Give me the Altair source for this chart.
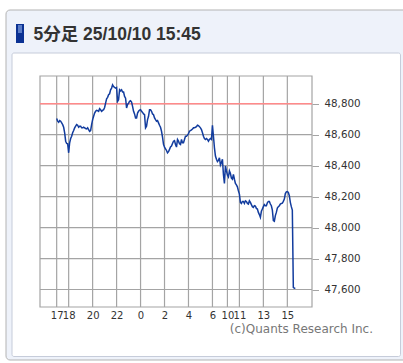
import altair as alt
import pandas as pd

# 5-minute bars in trading minutes from 17:00
# (night session 17:00-6:00 followed directly by day session 8:45-15:45)
# even bars (0, 10, 20 ... min) and odd bars (5, 15, 25 ... min)
prices_even = [48704, 48680, 48687, 48665, 48612, 48543, 48483, 48575, 48612, 48644,
               48665, 48648, 48655, 48644, 48644, 48637, 48633, 48627, 48697, 48740,
               48757, 48751, 48761, 48757, 48776, 48832, 48858, 48890, 48922, 48905,
               48905, 48826, 48883, 48875, 48847, 48772, 48804, 48819, 48783, 48734,
               48708, 48751, 48761, 48744, 48729, 48655, 48719, 48761, 48734, 48708,
               48687, 48676, 48648, 48584, 48520, 48498, 48490, 48520, 48543, 48562,
               48520, 48558, 48537, 48548, 48569, 48590, 48607, 48627, 48637, 48644,
               48652, 48659, 48644, 48612, 48575, 48575, 48558, 48575, 48661, 48515,
               48441, 48434, 48404, 48441, 48285, 48366, 48327, 48349, 48312, 48312,
               48276, 48237, 48163, 48169, 48156, 48169, 48152, 48163, 48135, 48141,
               48124, 48098, 48066, 48120, 48148, 48141, 48169, 48152, 48113, 48041,
               48098, 48135, 48152, 48158, 48184, 48231, 48227, 48163, 48113]
prices_odd = [48687, 48691, 48676, 48648, 48558, 48541, 48548, 48590, 48627, 48655,
              48661, 48655, 48644, 48648, 48640, 48644, 48622, 48665, 48719, 48751,
              48755, 48768, 48751, 48761, 48804, 48841, 48864, 48901, 48911, 48901,
              48815, 48890, 48890, 48875, 48836, 48794, 48815, 48811, 48751, 48708,
              48740, 48759, 48751, 48734, 48644, 48697, 48761, 48751, 48729, 48697,
              48691, 48661, 48622, 48537, 48509, 48483, 48505, 48526, 48558, 48537,
              48569, 48541, 48569, 48548, 48590, 48597, 48622, 48631, 48644, 48648,
              48661, 48652, 48633, 48590, 48569, 48569, 48569, 48569, 48590, 48462,
              48426, 48451, 48419, 48344, 48398, 48340, 48366, 48319, 48344, 48285,
              48263, 48216, 48156, 48169, 48173, 48156, 48173, 48148, 48130, 48139,
              48120, 48084, 48105, 48135, 48141, 48160, 48169, 48141, 48045, 48077,
              48126, 48141, 48156, 48169, 48220, 48233, 48206, 48135]
close_minutes = [1185, 1190, 1195]
close_prices = [47613, 47608, 47610]

x_tick_minutes = [0, 60, 180, 300, 420, 540, 660, 780, 855, 915, 1035, 1155]
x_tick_labels = ["17", "18", "20", "22", "0", "2", "4", "6", "10", "11", "13", "15"]
y_ticks = [47600, 47800, 48000, 48200, 48400, 48600, 48800]
ref_price = [48800]
header = "5分足 25/10/10 15:45"
credit = "(c)Quants Research Inc."

bar_minutes = 5
series = [v for pair in zip(prices_even, prices_odd) for v in pair] + [prices_even[-1]]
minutes = [i * bar_minutes for i in range(len(series))] + close_minutes
line_df = pd.DataFrame({"m": minutes, "price": series + close_prices})
xt_df = pd.DataFrame({"m": x_tick_minutes})
yt_df = pd.DataFrame({"p": y_ticks})
ref_df = pd.DataFrame({"p": ref_price})
one = pd.DataFrame({"header": [header], "credit": [credit]})

W, H = 272, 231
GRID = "#a4a4a4"

xscale = alt.Scale(domain=[-83.5, 1278.5], nice=False, zero=False)
yscale = alt.Scale(domain=[47487, 48979], nice=False, zero=False)

arr_v = "[" + ",".join(str(v) for v in x_tick_minutes) + "]"
arr_l = "[" + ",".join("'" + s + "'" for s in x_tick_labels) + "]"
xaxis = alt.Axis(values=x_tick_minutes, labelExpr=f"{arr_l}[indexof({arr_v}, datum.value)]",
                 ticks=False, domain=False, grid=False, labelPadding=3, labelFontSize=10,
                 labelFont="DejaVu Sans", labelColor="#333333", labelOverlap=False,
                 labelFlush=False, labelBound=False, title=None, zindex=1)
yaxis = alt.Axis(values=y_ticks, format=",d", orient="right", tickSize=6.5, tickColor=GRID,
                 domain=False, grid=False, labelPadding=5.5, labelFontSize=10.3,
                 labelFont="DejaVu Sans", labelColor="#333333", title=None, zindex=1)

base1 = alt.Chart(one)

outer = base1.mark_rect(fill="#eef2fa", stroke="#b3b3b3", strokeWidth=1, cornerRadius=4).encode(
    x=alt.value(-34), x2=alt.value(380), y=alt.value(-66), y2=alt.value(284))
inner = base1.mark_rect(fill="white", stroke="#c6ccda", strokeWidth=1, cornerRadius=2).encode(
    x=alt.value(-28), x2=alt.value(360.5), y=alt.value(-23), y2=alt.value(280.5))
marker = base1.mark_rect(fill="#0a3193").encode(
    x=alt.value(-24), x2=alt.value(-16), y=alt.value(-52), y2=alt.value(-33))
marker_hi = base1.mark_rect(fill="#5a7cc6").encode(
    x=alt.value(-22), x2=alt.value(-18), y=alt.value(-51), y2=alt.value(-43))
head_txt = base1.mark_text(align="left", baseline="alphabetic", fontSize=17.5, fontWeight="bold",
                           font="Liberation Sans, Noto Sans CJK JP", color="#333333").encode(
    x=alt.value(-6.5), y=alt.value(-36.5), text="header:N")
credit_txt = base1.mark_text(align="right", baseline="alphabetic", fontSize=12,
                             font="DejaVu Sans", color="#777777").encode(
    x=alt.value(333), y=alt.value(256.5), text="credit:N")

vgrid = alt.Chart(xt_df).mark_rule(color=GRID, strokeWidth=1.2).encode(
    x=alt.X("m:Q", scale=xscale, axis=xaxis))
hgrid = alt.Chart(yt_df).mark_rule(color=GRID, strokeWidth=1.2).encode(
    y=alt.Y("p:Q", scale=yscale, axis=yaxis))
frame = base1.mark_rect(fill=None, fillOpacity=0, stroke=GRID, strokeWidth=1.2).encode(
    x=alt.value(0), x2=alt.value(W), y=alt.value(0), y2=alt.value(H))
ref = alt.Chart(ref_df).mark_rule(color="#ff8a8a", strokeWidth=1.5).encode(
    y=alt.Y("p:Q", scale=yscale, axis=yaxis))
line = alt.Chart(line_df).mark_line(color="#123c9e", strokeWidth=1.5).encode(
    x=alt.X("m:Q", scale=xscale, axis=xaxis),
    y=alt.Y("price:Q", scale=yscale, axis=yaxis))

chart = alt.layer(outer, inner, marker, marker_hi, head_txt, credit_txt,
                  vgrid, hgrid, frame, ref, line).properties(
    width=W, height=H,
    autosize=alt.AutoSizeParams(type="none"),
    padding={"left": 40, "top": 76, "right": 403 - 40 - W, "bottom": 363 - 76 - H},
    background="white",
).configure_view(stroke=None)

chart.save("out.html", embed_options={"renderer": "svg", "actions": False})
